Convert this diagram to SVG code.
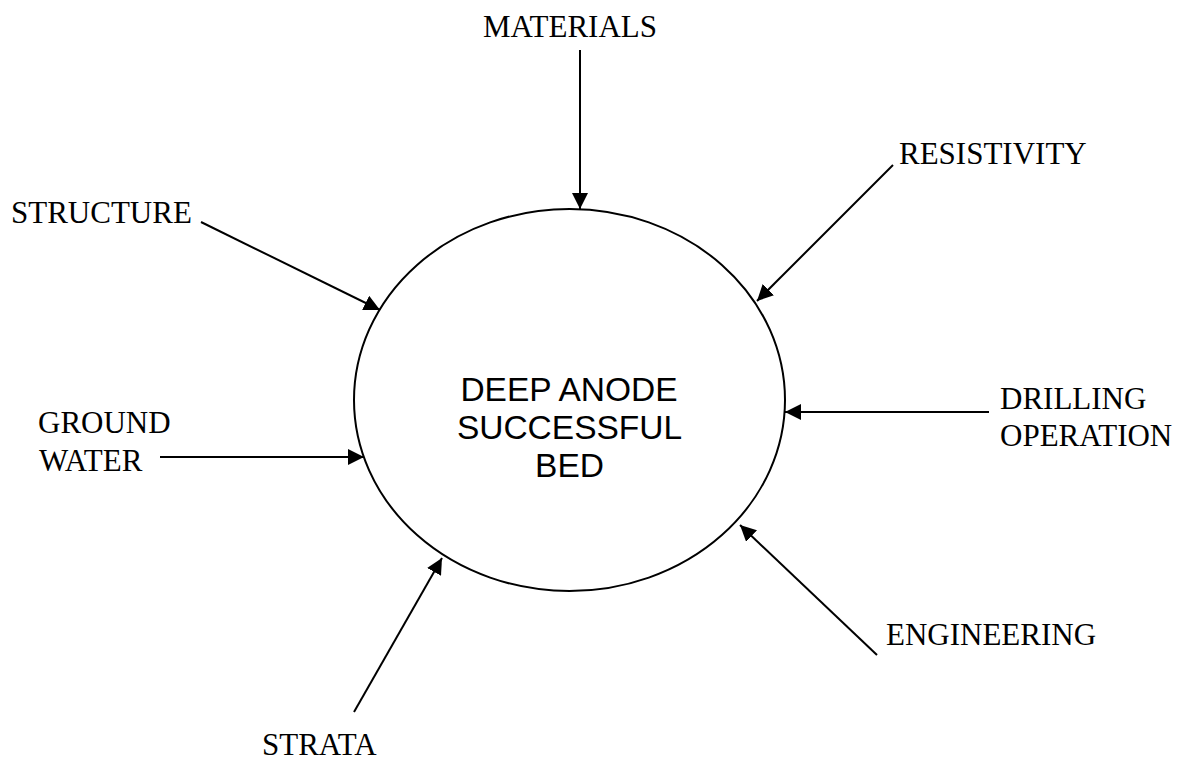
<svg xmlns="http://www.w3.org/2000/svg" width="1181" height="767" viewBox="0 0 1181 767">
<style>
.lbl{font-family:"Liberation Serif","Times New Roman",serif;font-size:31px;fill:#000}
.ctr{font-family:"Liberation Sans",Arial,sans-serif;font-size:33.5px;fill:#000;text-anchor:middle}
.con{stroke:#000;stroke-width:2;fill:none;marker-end:url(#ah)}
</style>
<defs>
<marker id="ah" markerUnits="userSpaceOnUse" viewBox="0 0 16 16" refX="16" refY="8" markerWidth="16" markerHeight="16" orient="auto">
<path d="M0,0 L16,8 L0,16 Z" fill="#000"/>
</marker>
</defs>
<rect width="1181" height="767" fill="#fff"/>
<g id="center">
<ellipse cx="569.5" cy="400" rx="215.5" ry="191" fill="none" stroke="#000" stroke-width="2"/>
<text class="ctr" x="569" y="401">DEEP ANODE</text>
<text class="ctr" x="569.5" y="439">SUCCESSFUL</text>
<text class="ctr" x="569.5" y="477">BED</text>
</g>
<g id="materials"><text class="lbl" x="483" y="37">MATERIALS</text></g>
<g id="resistivity"><text class="lbl" x="899" y="164">RESISTIVITY</text></g>
<g id="structure"><text class="lbl" x="11" y="223">STRUCTURE</text></g>
<g id="groundwater"><text class="lbl" x="38" y="433">GROUND</text><text class="lbl" x="39" y="471">WATER</text></g>
<g id="drilling"><text class="lbl" x="1000" y="409">DRILLING</text><text class="lbl" x="1000" y="446">OPERATION</text></g>
<g id="engineering"><text class="lbl" x="886" y="645">ENGINEERING</text></g>
<g id="strata"><text class="lbl" x="262" y="755">STRATA</text></g>
<g id="connectors">
<line class="con" x1="580" y1="50" x2="580" y2="209"/>
<line class="con" x1="893" y1="165" x2="757" y2="301"/>
<line class="con" x1="201" y1="222" x2="380" y2="310"/>
<line class="con" x1="160" y1="457" x2="364" y2="457"/>
<line class="con" x1="989" y1="412" x2="785" y2="412"/>
<line class="con" x1="877" y1="655" x2="740" y2="525"/>
<line class="con" x1="354" y1="712" x2="442" y2="558"/>
</g>
</svg>
